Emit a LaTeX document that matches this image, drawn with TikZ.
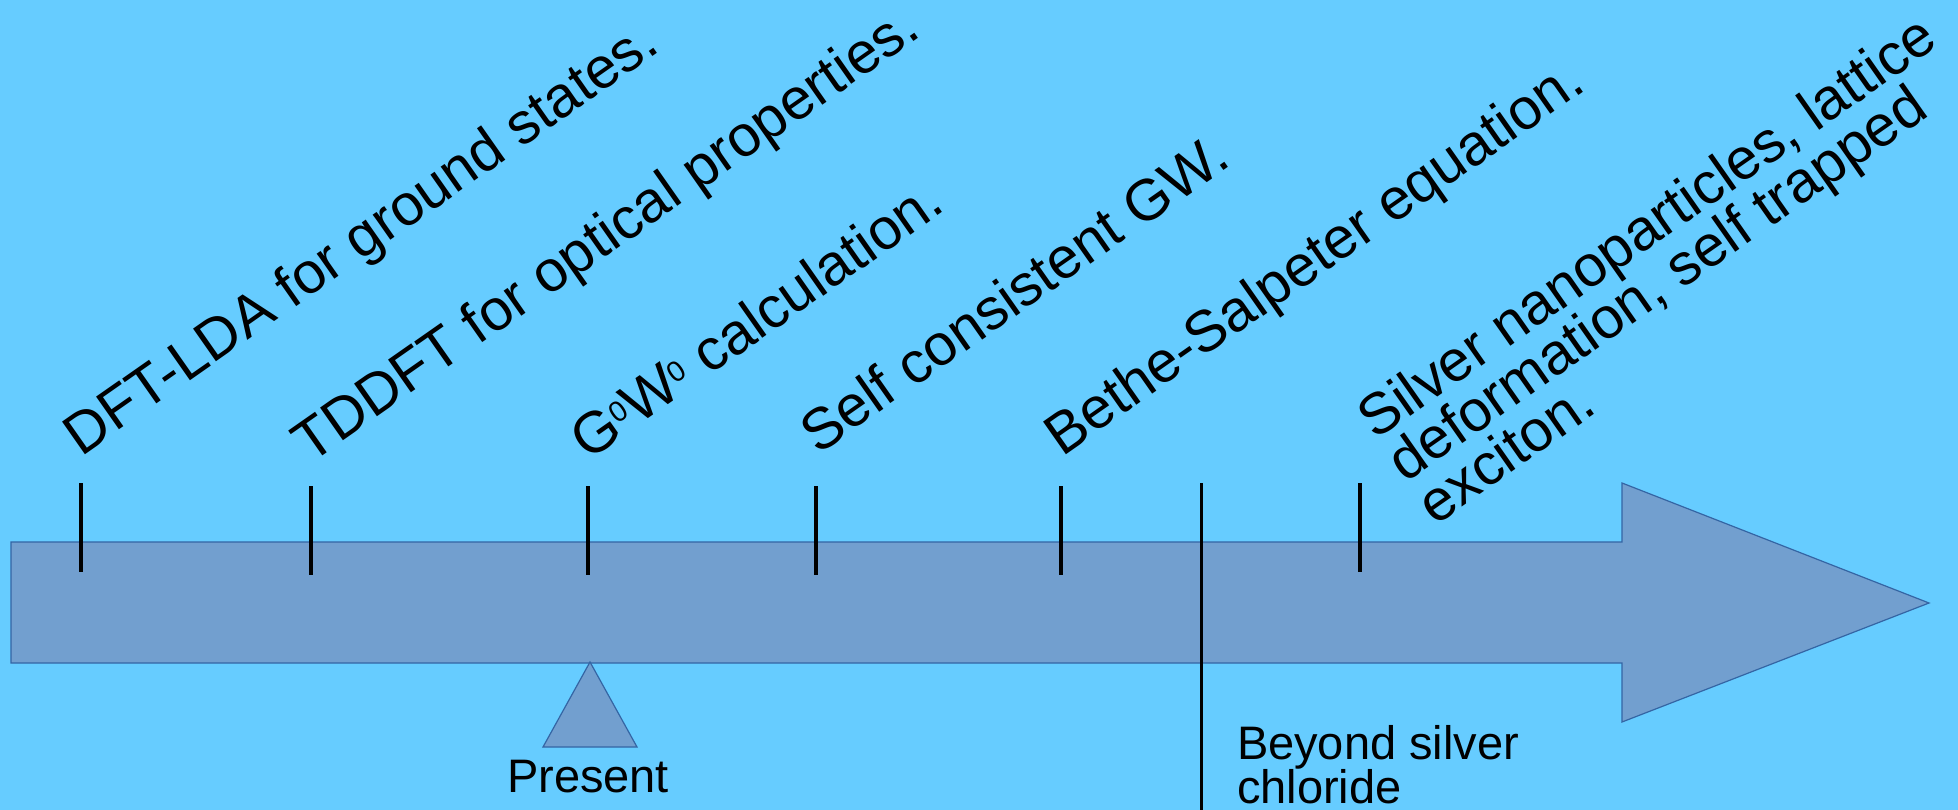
\documentclass[tikz,border=0pt]{standalone}
\usepackage{fontspec}
\setmainfont{Liberation Sans}
\definecolor{bgblue}{HTML}{66CCFF}
\definecolor{arrowfill}{HTML}{729FCF}
\definecolor{arrowline}{HTML}{3465A4}
\begin{document}
\begin{tikzpicture}[x=1pt,y=-1pt,
  shapefill/.style={fill=arrowfill,draw=arrowline,line width=1.2pt,line join=miter},
  tickline/.style={draw=black,line width=3.5pt},
  rotlabel/.style={anchor=base west,rotate=35,inner sep=0pt,outer sep=0pt,font=\fontsize{58}{55}\selectfont,align=left},
  lowlabel/.style={inner sep=0pt,outer sep=0pt,font=\fontsize{47}{44}\selectfont,align=left}]
\fill[bgblue] (0,0) rectangle (1958,810);
\useasboundingbox (0,0) rectangle (1958,810);
% big arrow
\draw[shapefill] (11,542) -- (1622,542) -- (1622,483) -- (1929,603) -- (1622,722) -- (1622,663) -- (11,663) -- cycle;
% present marker
\draw[shapefill] (590,662) -- (637,747) -- (543,747) -- cycle;
% tick coordinates
\coordinate (t1a) at (81,483);   \coordinate (t1b) at (81,572);
\coordinate (t2a) at (311,486);  \coordinate (t2b) at (311,575);
\coordinate (t3a) at (588,486);  \coordinate (t3b) at (588,575);
\coordinate (t4a) at (816,486);  \coordinate (t4b) at (816,575);
\coordinate (t5a) at (1061,486); \coordinate (t5b) at (1061,575);
\coordinate (t6a) at (1360,483); \coordinate (t6b) at (1360,572);
\coordinate (bla) at (1201,483); \coordinate (blb) at (1201,812);
\draw[tickline] (t1a) -- (t1b);
\draw[tickline] (t2a) -- (t2b);
\draw[tickline] (t3a) -- (t3b);
\draw[tickline] (t4a) -- (t4b);
\draw[tickline] (t5a) -- (t5b);
\draw[tickline] (t6a) -- (t6b);
\draw[draw=black,line width=3pt] (bla) -- (blb);
% rotated labels
\node[rotlabel] (l1) at (81,457) {DFT-LDA for ground states.};
\node[rotlabel] (l2) at (310,464) {TDDFT for optical properties.};
\node[rotlabel] (l3) at (588,461) {G\raisebox{0.22em}{\fontsize{29}{29}\selectfont 0}W\raisebox{0.22em}{\fontsize{29}{29}\selectfont 0} calculation.};
\node[rotlabel] (l4) at (818,455) {Self consistent GW.};
\node[rotlabel] (l5) at (1062,457) {Bethe-Salpeter equation.};
\node[rotlabel] (l6) at (1435,526) {Silver nanoparticles, lattice\\[-3pt]deformation, self trapped\\[-3pt]exciton.};
% lower labels
\node[lowlabel,anchor=base] (present) at (588,792) {Present};
\node[lowlabel,anchor=base west] (beyond) at (1237,803) {Beyond silver\\chloride};
\end{tikzpicture}
\end{document}
